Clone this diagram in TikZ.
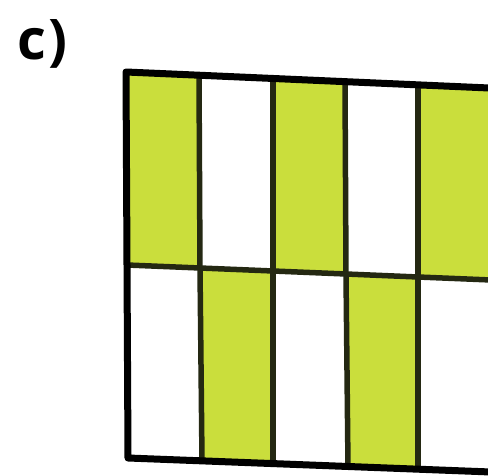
\documentclass[tikz,border=0pt]{standalone}
\usepackage{fontspec}
\setmainfont{Open Sans}
\begin{document}
\begin{tikzpicture}[x=1pt,y=-1pt,
  cellfill/.style={fill=leafgreen},
  outerline/.style={line width=7pt,line join=round,draw=black},
  innerline/.style={line width=5.5pt,draw=gridink}]
\definecolor{leafgreen}{RGB}{202,222,60}
\definecolor{gridink}{RGB}{36,40,18}
\useasboundingbox (0,0) rectangle (488,476);
\clip (0,0) rectangle (488,476);
% grid coordinates
\coordinate (t0) at (126,72);   \coordinate (t1) at (199,75.2);
\coordinate (t2) at (273,78.5); \coordinate (t3) at (345,81.7);
\coordinate (t4) at (418,84.9); \coordinate (t5) at (496,88.3);
\coordinate (m0) at (127,265);  \coordinate (m1) at (200,268);
\coordinate (m2) at (273,271);  \coordinate (m3) at (346,274);
\coordinate (m4) at (418,277);  \coordinate (m5) at (496,280.2);
\coordinate (b0) at (128,458);  \coordinate (b1) at (202,460.9);
\coordinate (b2) at (273,463.6);\coordinate (b3) at (348,466.6);
\coordinate (b4) at (418,469.3);\coordinate (b5) at (496,472.2);
% green cells
\fill[cellfill] (t0) -- (t1) -- (m1) -- (m0) -- cycle;
\fill[cellfill] (t2) -- (t3) -- (m3) -- (m2) -- cycle;
\fill[cellfill] (t4) -- (t5) -- (m5) -- (m4) -- cycle;
\fill[cellfill] (m1) -- (m2) -- (b2) -- (b1) -- cycle;
\fill[cellfill] (m3) -- (m4) -- (b4) -- (b3) -- cycle;
% inner lines
\draw[innerline] (t1) -- (m1) -- (b1);
\draw[innerline] (t2) -- (m2) -- (b2);
\draw[innerline] (t3) -- (m3) -- (b3);
\draw[innerline] (t4) -- (m4) -- (b4);
\draw[innerline] (m0) -- (m1) -- (m2) -- (m3) -- (m4) -- (m5);
% outer frame
\draw[outerline] (t0) -- (t5) -- (b5) -- (b0) -- cycle;
% label
\node[anchor=base west,inner sep=0pt,font=\fontsize{56}{56}\selectfont\bfseries] (lbl) at (17,60) {c\kern3pt)};
\end{tikzpicture}
\end{document}
